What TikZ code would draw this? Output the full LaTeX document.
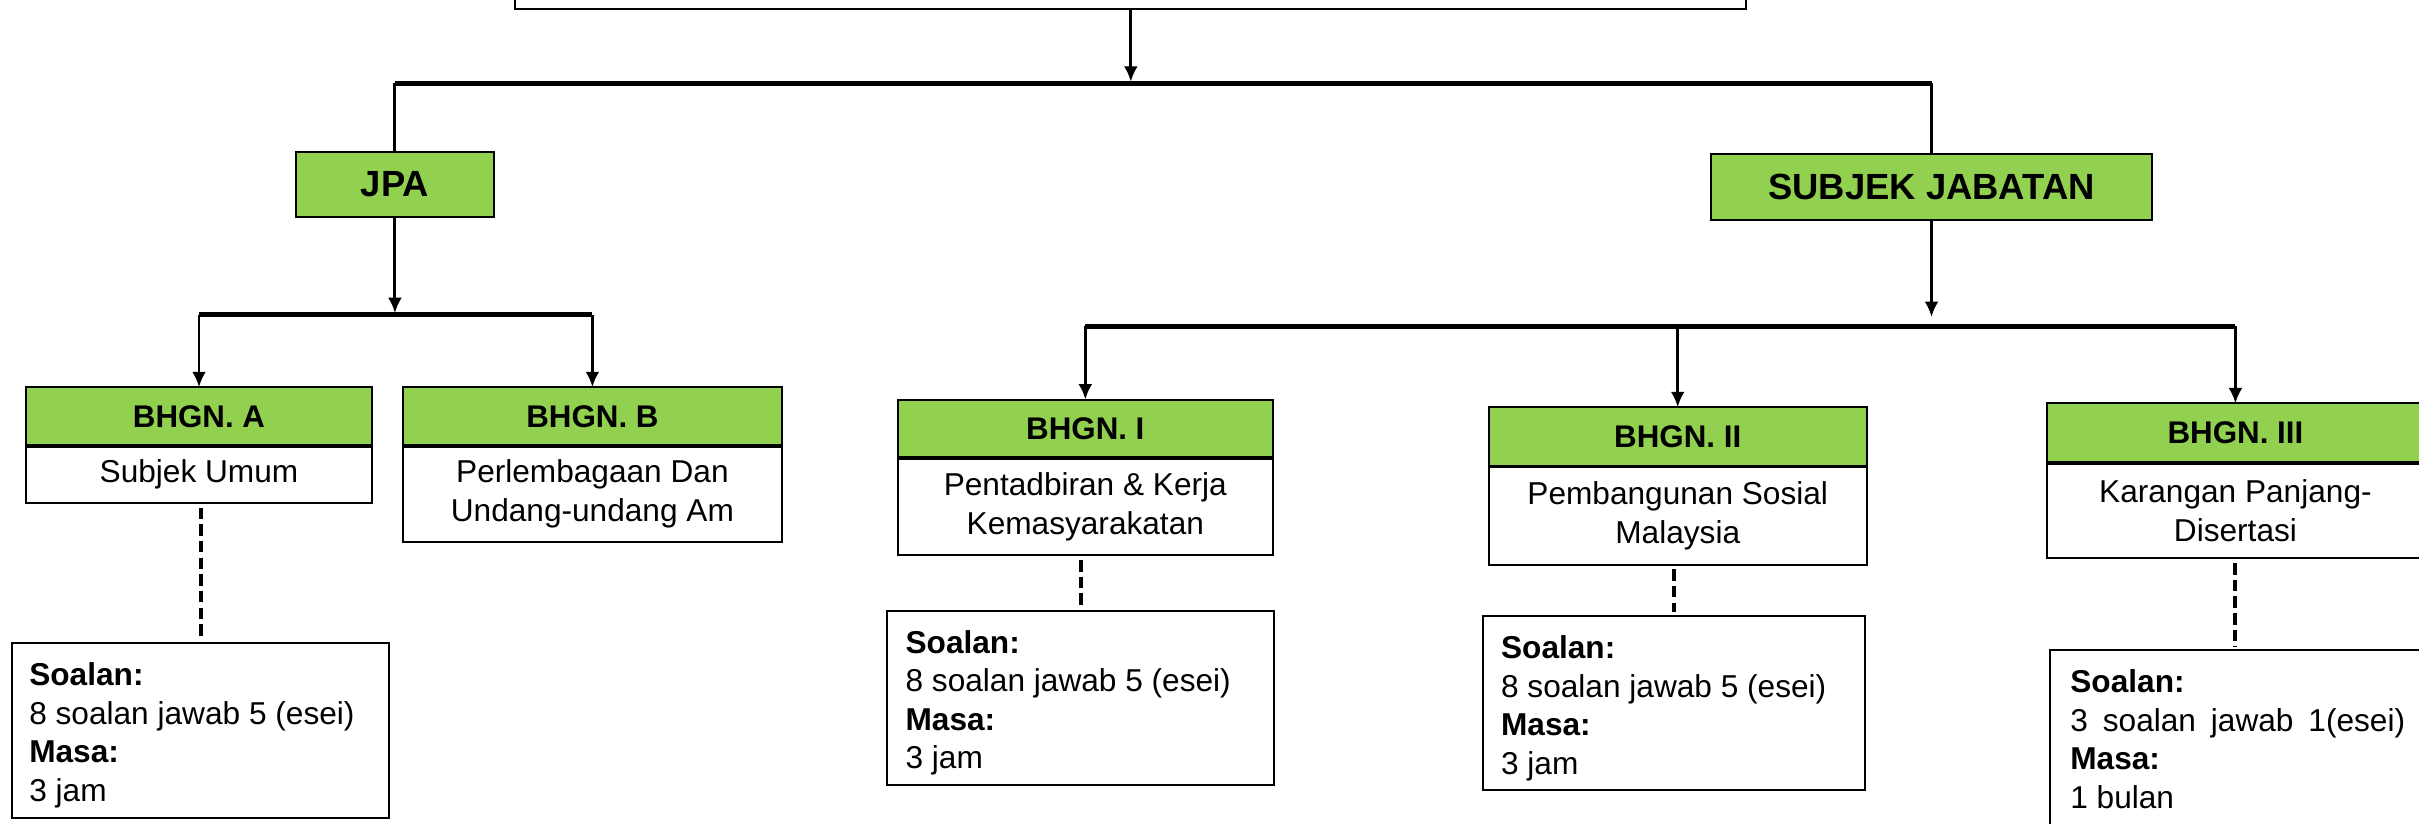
\documentclass[tikz,border=0pt]{standalone}
\usepackage{fontspec}
\setmainfont{Liberation Sans}
\usetikzlibrary{arrows.meta}
\definecolor{hgreen}{RGB}{146,208,80}
\begin{document}
\begin{tikzpicture}[x={(1pt,0pt)},y={(0pt,-1pt)},
  box/.style={draw=black, line width=1.3pt, outer sep=0pt, inner sep=0pt},
  hdr/.style={box, fill=hgreen, font=\bfseries\fontsize{20.3}{24}\selectfont},
  bighdr/.style={box, fill=hgreen, font=\bfseries\fontsize{23.6}{28}\selectfont},
  bodybox/.style={box, fill=white, align=center, font=\fontsize{20.5}{25.5}\selectfont},
  infobox/.style={box, fill=white},
  infotext/.style={inner sep=0pt, outer sep=0pt, align=left, anchor=north west, font=\fontsize{20.5}{25}\selectfont},
  bus/.style={line width=3pt},
  conn/.style={line width=1.9pt},
  arr/.style={line width=1.9pt, -{Latex[length=10pt,width=9pt]}},
  dashconn/.style={line width=2.6pt, dash pattern=on 7.5pt off 3.3pt, shorten <=3pt, shorten >=2.5pt},
  sep/.style={line width=2.2pt},
]
\useasboundingbox (0,0) rectangle (1568,534);

% top box (cut off by frame)
\node[box, minimum width=798pt, minimum height=30pt, anchor=south] (top) at (733,6) {};

% level 1
\node[bighdr, minimum width=128pt, minimum height=42pt, anchor=north west] (jpa) at (192,98.5) {JPA};
\node[bighdr, minimum width=286pt, minimum height=42.5pt, anchor=north west] (sj) at (1109,100) {SUBJEK JABATAN};

\coordinate (y1) at (0,54);
\coordinate (t1) at (733,53);
\coordinate (b1l) at (jpa.north |- y1);
\coordinate (b1r) at (sj.north |- y1);
\draw[arr] (top.south) -- (t1);
\draw[bus] (b1l) -- (b1r);
\draw[conn] (b1l) -- (jpa.north);
\draw[conn] (b1r) -- (sj.north);

% level 2 (JPA)
\node[hdr, minimum width=224pt, minimum height=38pt, anchor=north west] (ha) at (17,251) {BHGN. A};
\node[bodybox, minimum width=224pt, minimum height=37pt, anchor=north] (ba) at (ha.south) {Subjek Umum};
\draw[sep] (ha.south west) -- (ha.south east);
\node[hdr, minimum width=246pt, minimum height=38pt, anchor=north west] (hb) at (261,251) {BHGN. B};
\node[bodybox, minimum width=246pt, minimum height=62.5pt, anchor=north] (bb) at (hb.south) {Perlembagaan Dan\\Undang-undang Am};
\draw[sep] (hb.south west) -- (hb.south east);

\coordinate (y2) at (0,204);
\coordinate (t2) at (256,203);
\coordinate (b2l) at (ha.north |- y2);
\coordinate (b2r) at (hb.north |- y2);
\draw[arr] (jpa.south) -- (t2);
\draw[bus] (b2l) -- (b2r);
\draw[arr] (b2l) -- (ha.north);
\draw[arr] (b2r) -- (hb.north);

% level 2 (SUBJEK JABATAN)
\node[hdr, minimum width=243pt, minimum height=38pt, anchor=north west] (h1) at (582,259) {BHGN. I};
\node[bodybox, minimum width=243pt, minimum height=63pt, anchor=north] (b1) at (h1.south) {Pentadbiran \& Kerja\\Kemasyarakatan};
\draw[sep] (h1.south west) -- (h1.south east);
\node[hdr, minimum width=245pt, minimum height=38.5pt, anchor=north west] (h2) at (965,264) {BHGN. II};
\node[bodybox, minimum width=245pt, minimum height=63.5pt, anchor=north] (b2) at (h2.south) {Pembangunan Sosial\\Malaysia};
\draw[sep] (h2.south west) -- (h2.south east);
\node[hdr, minimum width=244pt, minimum height=38.5pt, anchor=north west] (h3) at (1327,261.5) {BHGN. III};
\node[bodybox, minimum width=244pt, minimum height=62pt, anchor=north] (b3) at (h3.south) {Karangan Panjang-\\Disertasi};
\draw[sep] (h3.south west) -- (h3.south east);

\coordinate (y3) at (0,211.5);
\coordinate (t3) at (1252,205.5);
\coordinate (b3l) at (h1.north |- y3);
\coordinate (b3m) at (h2.north |- y3);
\coordinate (b3r) at (h3.north |- y3);
\draw[arr] (sj.south) -- (t3);
\draw[bus] (b3l) -- (b3r);
\draw[arr] (b3l) -- (h1.north);
\draw[arr] (b3m) -- (h2.north);
\draw[arr] (b3r) -- (h3.north);

% info boxes
\node[infobox, minimum width=244pt, minimum height=113pt, anchor=north west] (ia) at (8,417) {};
\node[infotext] (ta) at ([shift={(11,12.5)}]ia.north west) {\textbf{Soalan:}\\8 soalan jawab 5 (esei)\\\textbf{Masa:}\\3 jam};
\node[infobox, minimum width=251pt, minimum height=113pt, anchor=north west] (i1) at (575,396) {};
\node[infotext] (t1txt) at ([shift={(12,12.5)}]i1.north west) {\textbf{Soalan:}\\8 soalan jawab 5 (esei)\\\textbf{Masa:}\\3 jam};
\node[infobox, minimum width=248pt, minimum height=112.5pt, anchor=north west] (i2) at (961,399.5) {};
\node[infotext] (t2txt) at ([shift={(12,12.5)}]i2.north west) {\textbf{Soalan:}\\8 soalan jawab 5 (esei)\\\textbf{Masa:}\\3 jam};
\node[infobox, minimum width=260pt, minimum height=125pt, anchor=north west] (i3) at (1329,421.6) {};
\node[infotext] (t3txt) at ([shift={(13,12.5)}]i3.north west) {\textbf{Soalan:}\\\makebox[217pt][s]{3 soalan jawab 1(esei)}\\\textbf{Masa:}\\1 bulan};

\draw[dashconn] (ia.north |- ba.south) -- (ia.north);
\draw[dashconn] (i1.north |- b1.south) -- (i1.north);
\draw[dashconn] (i2.north |- b2.south) -- (i2.north);
\draw[dashconn] (h3.north |- b3.south) -- (h3.north |- i3.north);
\end{tikzpicture}
\end{document}
